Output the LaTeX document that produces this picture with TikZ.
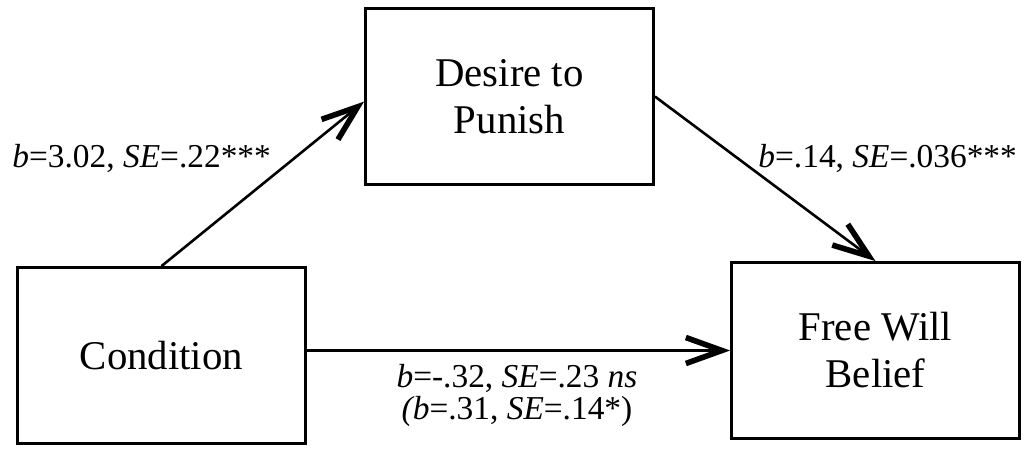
\documentclass[tikz,border=0pt]{standalone}
\usepackage{fontspec}
\setmainfont{Liberation Serif}
\usetikzlibrary{arrows.meta,positioning,calc}

\begin{document}
\begin{tikzpicture}[x=0.5pt, y=-0.5pt,
    box/.style={draw, line width=1.4pt, minimum width=144pt, minimum height=88pt,
                inner sep=0pt, align=center, font=\fontsize{20.4}{23.5}\selectfont},
    path/.style={line width=1.3pt, -{Straight Barb[length=18pt, width=13pt, line width'=2.8pt]}},
    coef/.style={inner sep=0pt, font=\fontsize{16.7}{16}\selectfont}]
                    \useasboundingbox (0, 0) rectangle (1026, 449);

                    % the three variables
                    \node (desire) at (509.5, 96.5) [box] {Desire to\\Punish};
                    \node (cond) at (161.5, 355.5) [box] {Condition};
                    \node (belief) at (875.5, 350.5) [box] {Free Will\\Belief};

                    \draw[path] (cond.north) -- (desire.182);
                    \draw[path] (desire.east) -- (belief.north);
                    \draw[path] (cond.east |- belief.west) -- (belief.west);

                    % coefficients
                    \node (a) at (12, 167)[coef, anchor=base west]
                    {\textit{b}=3.02, \textit{SE}=.22***};
                    \node (b) at (758, 167)[coef, anchor=base west]
                    {\textit{b}=.14, \textit{SE}=.036***};
                    \node (c) at (517, 419)[coef, anchor=base, align=center]
                    {\textit{b}=-.32, \textit{SE}=.23 \textit{ns}\\
                     \textit{(b}=.31, \textit{SE}=.14*)};
                \end{tikzpicture}
\end{document}
